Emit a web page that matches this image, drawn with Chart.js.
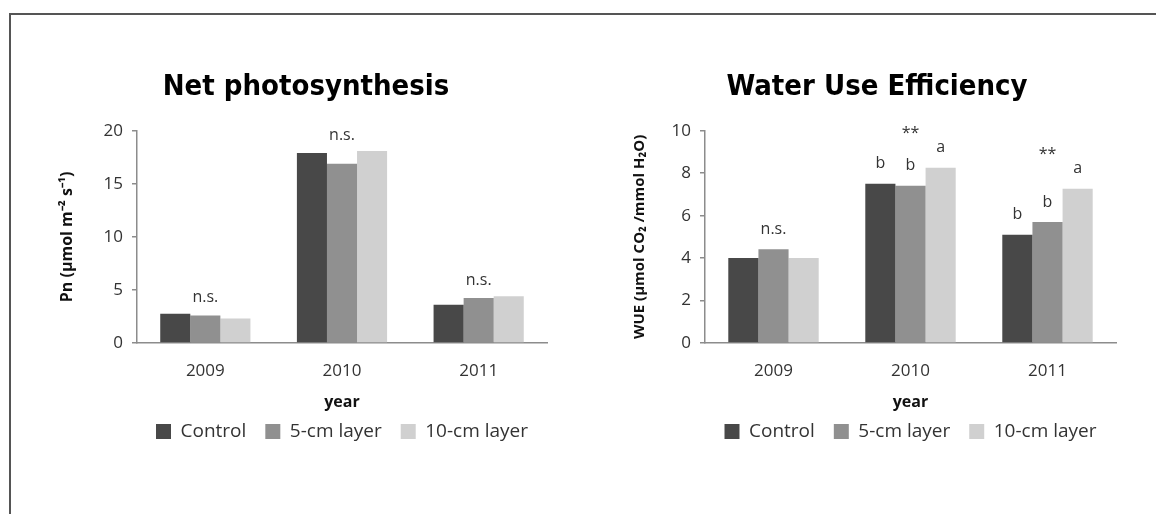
<!DOCTYPE html>
<html>
<head>
<meta charset="utf-8">
<script src="https://cdn.jsdelivr.net/npm/chart.js@4.4.0/dist/chart.umd.min.js"></script>
<style>
  body { margin: 0; background: #fff; width: 1156px; height: 514px; overflow: hidden; position: relative; }
  #frame { position: absolute; left: 9px; top: 13px; right: -4px; bottom: -4px; border-top: 2px solid #555; border-left: 2px solid #555; }
  canvas { position: absolute; top: 50px; }
  #pn { left: 20px; }
  #wue { left: 610px; }
</style>
</head>
<body>
<div id="frame"></div>
<canvas id="pn" width="572" height="401"></canvas>
<canvas id="wue" width="534" height="401"></canvas>
<script>
// data
const years = ['2009', '2010', '2011'];
const seriesNames = ['Control', '5-cm layer', '10-cm layer'];

const pnControl = [2.75, 17.9, 3.6];
const pn5cm = [2.6, 16.9, 4.25];
const pn10cm = [2.3, 18.1, 4.4];

const wueControl = [4.0, 7.5, 5.1];
const wue5cm = [4.42, 7.41, 5.7];
const wue10cm = [4.0, 8.26, 7.27];

// significance marks above each year group, and letters above each bar
const pnGroupMarks = ['n.s.', 'n.s.', 'n.s.'];
const wueGroupMarks = ['n.s.', '**', '**'];
const wueLetters = [
    ['', 'b', 'b'],
    ['', 'b', 'b'],
    ['', 'a', 'a']
];

const colors = ['#484848', '#909090', '#d0d0d0'];
const axisGray = '#8c8c8c';
const textGray = '#333';
const tickFont = { family: "'Open Sans', sans-serif", size: 17 };

// draws n.s. / ** above the groups and letters above single bars
const barMarks = {
    id: 'barMarks',
    afterDatasetsDraw(chart, args, opts) {
        const ctx = chart.ctx;
        const xScale = chart.scales.x;
        ctx.save();
        ctx.font = opts.font;
        ctx.fillStyle = opts.color;
        ctx.textAlign = 'center';
        ctx.textBaseline = 'middle';

        (opts.groups || []).forEach((mark, i) => {
            if (!mark) return;
            let top = Infinity;
            chart.data.datasets.forEach((ds, d) => {
                const el = chart.getDatasetMeta(d).data[i];
                top = Math.min(top, el.y);
            });
            ctx.fillText(mark, xScale.getPixelForValue(i), top - opts.groupGap[mark]);
        });

        (opts.letters || []).forEach((row, d) => {
            const meta = chart.getDatasetMeta(d);
            row.forEach((txt, i) => {
                if (!txt) return;
                const el = meta.data[i];
                ctx.fillText(txt, el.x, el.y - opts.letterGap);
            });
        });
        ctx.restore();
    }
};

function buildDatasets(values) {
    return values.map((v, i) => ({
        label: seriesNames[i],
        data: v,
        backgroundColor: colors[i],
        borderWidth: 0,
        categoryPercentage: 0.66,
        barPercentage: 1.0
    }));
}

function makeChart(id, cfg) {
    return new Chart(document.getElementById(id), {
        type: 'bar',
        data: { labels: years, datasets: buildDatasets(cfg.values) },
        plugins: [barMarks],
        options: {
            responsive: false,
            animation: false,
            layout: { padding: 0 },
            plugins: {
                title: {
                    display: true,
                    text: cfg.title,
                    color: '#000',
                    font: { family: "'Liberation Sans Narrow', 'DejaVu Sans Condensed', sans-serif", size: 29, weight: 'bold' },
                    padding: { top: 20, bottom: 26 }
                },
                legend: {
                    position: 'bottom',
                    fullSize: false,
                    labels: {
                        boxWidth: 15,
                        boxHeight: 15,
                        padding: 19,
                        color: textGray,
                        font: { family: "'Open Sans', sans-serif", size: 19 }
                    }
                },
                tooltip: { enabled: false },
                barMarks: {
                    groups: cfg.groups,
                    groupGap: cfg.groupGap,
                    letters: cfg.letters,
                    letterGap: 20,
                    font: "16px 'Open Sans', sans-serif",
                    color: textGray
                }
            },
            scales: {
                x: {
                    grid: { display: false, drawTicks: false },
                    border: { display: true, color: axisGray, width: 1.5 },
                    ticks: { padding: 18, color: textGray, font: tickFont },
                    title: {
                        display: true,
                        text: 'year',
                        color: '#111',
                        font: { family: "'Open Sans', sans-serif", size: 16, weight: 'bold' },
                        padding: { top: 0, bottom: -8.6 }
                    },
                    afterFit(scale) { scale.height = 60; }
                },
                y: {
                    min: 0,
                    max: cfg.yMax,
                    ticks: { stepSize: cfg.yStep, padding: 9, color: textGray, font: tickFont },
                    grid: { display: true, drawOnChartArea: false, drawTicks: true, tickLength: 5, color: axisGray, lineWidth: 1.5 },
                    border: { display: true, color: axisGray, width: 1.5 },
                    title: {
                        display: true,
                        text: cfg.yTitle,
                        color: '#111',
                        font: { family: "'Open Sans', sans-serif", size: cfg.yTitleSize, weight: 'bold' },
                        padding: { top: cfg.yTitlePad, bottom: 0 }
                    },
                    afterFit(scale) { scale.width = cfg.yWidth; }
                },
                // empty spacer on the right so the title centres like the original
                spacer: {
                    type: 'linear',
                    position: 'right',
                    grid: { display: false, drawTicks: false },
                    border: { display: false },
                    ticks: { display: false },
                    afterFit(scale) { scale.width = cfg.padRight; }
                }
            }
        }
    });
}

makeChart('pn', {
    title: 'Net photosynthesis',
    values: [pnControl, pn5cm, pn10cm],
    yMax: 20,
    yStep: 5,
    yTitle: 'Pn (µmol m⁻² s⁻¹)',
    yTitleSize: 16,
    yTitlePad: 38,
    yWidth: 117,
    padRight: 45,
    groups: pnGroupMarks,
    groupGap: { 'n.s.': 16 },
    letters: []
});

makeChart('wue', {
    title: 'Water Use Efficiency',
    values: [wueControl, wue5cm, wue10cm],
    yMax: 10,
    yStep: 2,
    yTitle: 'WUE (µmol CO₂ /mmol H₂O)',
    yTitleSize: 15,
    yTitlePad: 21,
    yWidth: 95,
    padRight: 28,
    groups: wueGroupMarks,
    groupGap: { 'n.s.': 20, '**': 34 },
    letters: wueLetters
});
</script>
</body>
</html>
